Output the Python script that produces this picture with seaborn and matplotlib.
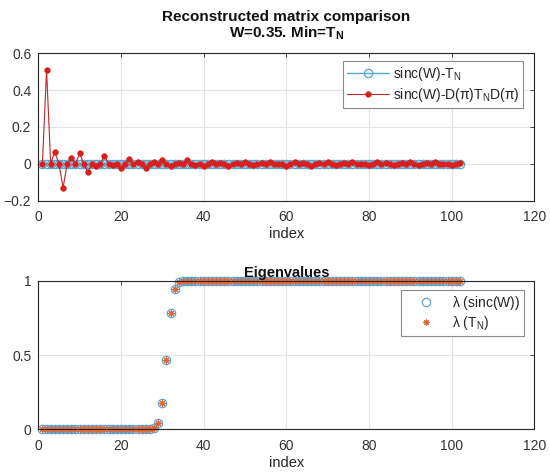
import numpy as np
import pandas as pd
import matplotlib
matplotlib.use("Agg")
import matplotlib.pyplot as plt
import seaborn as sns

# ---------------- data ----------------
index = list(range(1, 103))

diff_sinc_tn = [0.0] * 102  # sinc(W)-T_N

diff_sinc_dtd = [
    0.0, 0.51, 0.0, 0.065, 0.0, -0.13, 0.0, 0.03, 0.0, 0.056,
    0.0, -0.046, 0.0, -0.01, 0.0, 0.043, 0.0, -0.005, 0.0, -0.023,
    0.0, 0.025, 0.0, 0.007, 0.0, -0.022, 0.0, 0.007, 0.0, 0.018,
    0.0, -0.012, 0.0, 0.004, 0.0, 0.02, 0.0, -0.005, 0.0, -0.012,
    0.0, 0.012, 0.0, 0.003, 0.0, -0.013, 0.0, 0.006, 0.0, 0.012,
    0.0, -0.008, 0.0, 0.002, 0.0, 0.012, 0.0, -0.004, 0.0, -0.01,
    0.0, 0.01, 0.0, 0.002, 0.0, -0.01, 0.0, 0.004, 0.0, 0.01,
    0.0, -0.006, 0.0, 0.002, 0.0, 0.01, 0.0, -0.004, 0.0, -0.008,
    0.0, 0.008, 0.0, 0.002, 0.0, -0.008, 0.0, 0.004, 0.0, 0.008,
    0.0, -0.005, 0.0, 0.002, 0.0, 0.008, 0.0, -0.003, 0.0, -0.006,
    0.0, 0.006,
]

eig_sinc = ([0.0] * 26 + [0.002, 0.012, 0.045, 0.175, 0.466, 0.78, 0.945, 0.99]
            + [1.0] * 68)
eig_tn = ([0.0] * 26 + [0.002, 0.012, 0.045, 0.175, 0.466, 0.78, 0.945, 0.99]
          + [1.0] * 68)

top_labels = [r"sinc(W)-T$_\mathrm{N}$",
              r"sinc(W)-D($\mathrm{\pi}$)T$_\mathrm{N}$D($\mathrm{\pi}$)"]
bot_labels = [r"$\mathrm{\lambda}$ (sinc(W))", r"$\mathrm{\lambda}$ (T$_\mathrm{N}$)"]

# ---------------- style ----------------
sns.set_style("white")
plt.rcParams["font.family"] = ["Liberation Sans", "DejaVu Sans"]
plt.rcParams["mathtext.fontset"] = "custom"
plt.rcParams["mathtext.rm"] = "Liberation Sans"
plt.rcParams["mathtext.it"] = "Liberation Sans:italic"
plt.rcParams["mathtext.bf"] = "Liberation Sans:bold"
plt.rcParams["axes.unicode_minus"] = True

axis_col = "#262626"
tick_col = "#333333"
grid_col = "#e3e3e3"
blue = "#5aa6cc"
red = "#d81e1e"
redline = "#b8282a"
circ = "#6b9fc4"
orange = "#d9673a"

fig = plt.figure(figsize=(5.5, 4.74), dpi=100)
ax1 = fig.add_axes([0.0696, 0.577, 0.902, 0.3105])
ax2 = fig.add_axes([0.0696, 0.0943, 0.902, 0.3135])

df_top = pd.DataFrame({"index": index, "a": diff_sinc_tn, "b": diff_sinc_dtd})
df_bot = pd.DataFrame({"index": index, "s": eig_sinc, "t": eig_tn})

sns.lineplot(data=df_top, x="index", y="a", ax=ax1, color=blue, lw=1.0,
             marker="o", markersize=6, markerfacecolor="none",
             markeredgecolor=blue, markeredgewidth=0.9, label=top_labels[0],
             estimator=None, sort=False, clip_on=False)
sns.lineplot(data=df_top, x="index", y="b", ax=ax1, color=redline, lw=0.8,
             marker="o", markersize=4.2, markerfacecolor=red,
             markeredgecolor=red, markeredgewidth=0.3, label=top_labels[1],
             estimator=None, sort=False, clip_on=False)

sns.lineplot(data=df_bot, x="index", y="s", ax=ax2, color=circ, lw=0,
             linestyle="", marker="o", markersize=6.0, markerfacecolor="none",
             markeredgecolor=circ, markeredgewidth=0.9, label=bot_labels[0],
             estimator=None, sort=False, clip_on=False)
sns.lineplot(data=df_bot, x="index", y="t", ax=ax2, color=orange, lw=0,
             linestyle="", marker=(8, 2, 0), markersize=4.5,
             markeredgecolor=orange, markeredgewidth=0.8, label=bot_labels[1],
             estimator=None, sort=False, clip_on=False)

for ax in (ax1, ax2):
    ax.set_xlim(0, 120)
    ax.set_xticks(range(0, 121, 20))
    ax.grid(True, color=grid_col, lw=0.8)
    ax.set_axisbelow(True)
    for s in ax.spines.values():
        s.set_color(axis_col)
        s.set_linewidth(0.8)
        s.set_visible(True)
    ax.tick_params(direction="in", top=True, right=True, length=3,
                   width=0.6, colors=axis_col, labelcolor=tick_col,
                   labelsize=10)
    ax.tick_params(axis="x", pad=7)
    ax.tick_params(axis="y", pad=5)
    ax.set_xlabel("index", fontsize=10.5, color=axis_col, labelpad=2)
    ax.set_ylabel("")

ax1.set_ylim(-0.2, 0.6)
ax1.set_yticks([-0.2, 0, 0.2, 0.4, 0.6])
ax1.set_yticklabels(["\u22120.2", "0", "0.2", "0.4", "0.6"])
ax2.set_ylim(0, 1)
ax2.set_yticks([0, 0.5, 1])
ax2.set_yticklabels(["0", "0.5", "1"])

ax1.set_title("Reconstructed matrix comparison\n" + r"W=0.35. Min=T$_\mathbf{N}$",
              fontsize=11, fontweight="bold", color="#111111", pad=11,
              linespacing=1.1)
ax2.set_title("Eigenvalues", fontsize=10.5, fontweight="bold",
              color="#111111", pad=3)

leg1 = ax1.legend(loc="upper right", bbox_to_anchor=(0.978, 0.95), fontsize=10,
                  frameon=True, fancybox=False, edgecolor="#8a8a8a",
                  framealpha=1, handlelength=3.0, borderpad=0.3,
                  labelspacing=0.2, handletextpad=0.3, borderaxespad=0.0)
leg1.get_frame().set_linewidth(0.8)
leg2 = ax2.legend(loc="upper right", bbox_to_anchor=(0.98, 0.94), fontsize=10,
                  frameon=True, fancybox=False, edgecolor="#8a8a8a",
                  framealpha=1, handlelength=3.0, borderpad=0.3,
                  labelspacing=0.15, handletextpad=0.4, borderaxespad=0.0)
leg2.get_frame().set_linewidth(0.8)

fig.savefig("out.png", dpi=100)
